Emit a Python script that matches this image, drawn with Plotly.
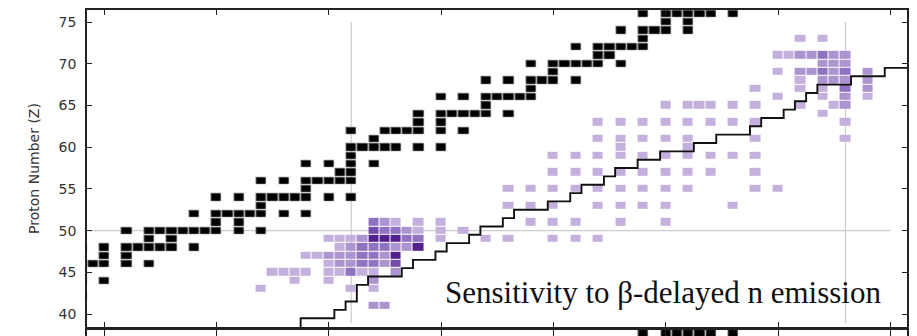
import plotly.graph_objects as go

# ---------------- data ----------------
# stable nuclei (Z, N)
stable_nuclei = [
    (42, 58),
    (44, 58), (44, 60),
    (45, 58),
    (46, 58), (46, 59), (46, 60), (46, 62), (46, 64),
    (47, 60), (47, 62),
    (48, 58), (48, 60), (48, 62), (48, 63), (48, 64), (48, 65), (48, 66), (48, 68),
    (49, 64), (49, 66),
    (50, 62), (50, 64), (50, 65), (50, 66), (50, 67), (50, 68), (50, 69), (50, 70), (50, 72), (50, 74),
    (51, 70), (51, 72),
    (52, 68), (52, 70), (52, 71), (52, 72), (52, 73), (52, 74), (52, 76), (52, 78),
    (53, 74),
    (54, 70), (54, 72), (54, 74), (54, 75), (54, 76), (54, 77), (54, 78), (54, 80), (54, 82),
    (55, 78),
    (56, 74), (56, 76), (56, 78), (56, 79), (56, 80), (56, 81), (56, 82),
    (57, 81), (57, 82),
    (58, 78), (58, 80), (58, 82), (58, 84),
    (59, 82),
    (60, 82), (60, 83), (60, 84), (60, 85), (60, 86), (60, 88), (60, 90),
    (61, 84),
    (62, 82), (62, 85), (62, 86), (62, 87), (62, 88), (62, 90), (62, 92),
    (63, 88), (63, 90),
    (64, 88), (64, 90), (64, 91), (64, 92), (64, 93), (64, 94), (64, 96),
    (65, 94),
    (66, 90), (66, 92), (66, 94), (66, 95), (66, 96), (66, 97), (66, 98),
    (67, 98),
    (68, 94), (68, 96), (68, 98), (68, 99), (68, 100), (68, 102),
    (69, 100),
    (70, 98), (70, 100), (70, 101), (70, 102), (70, 103), (70, 104), (70, 106),
    (71, 104), (71, 105),
    (72, 102), (72, 104), (72, 105), (72, 106), (72, 107), (72, 108),
    (73, 108),
    (74, 106), (74, 108), (74, 109), (74, 110), (74, 112),
    (75, 110), (75, 112),
    (76, 108), (76, 110), (76, 111), (76, 112), (76, 113), (76, 114), (76, 116),
]

# sensitivity cells (Z, N, level 1..5)
sens_cells = [
    (41, 84, 2), (41, 85, 2),
    (43, 74, 1), (43, 82, 1), (43, 84, 1),
    (44, 77, 1), (44, 80, 1), (44, 84, 2),
    (45, 75, 1), (45, 76, 1), (45, 77, 1), (45, 78, 1), (45, 80, 1), (45, 81, 1),
    (45, 82, 3), (45, 83, 1), (45, 84, 1), (45, 86, 2),
    (46, 80, 1), (46, 81, 2), (46, 82, 2), (46, 83, 3), (46, 84, 3), (46, 85, 2), (46, 86, 4),
    (47, 78, 1), (47, 79, 1), (47, 80, 2), (47, 81, 2), (47, 82, 2), (47, 83, 3),
    (47, 84, 3), (47, 85, 2), (47, 86, 5),
    (48, 81, 1), (48, 82, 2), (48, 83, 3), (48, 84, 3), (48, 85, 3), (48, 86, 2),
    (48, 87, 2), (48, 88, 5),
    (49, 80, 1), (49, 81, 1), (49, 82, 1), (49, 83, 2), (49, 84, 5), (49, 85, 5),
    (49, 86, 5), (49, 87, 3), (49, 88, 3), (49, 90, 1), (49, 94, 1), (49, 96, 1),
    (49, 100, 1), (49, 102, 1), (49, 104, 1),
    (50, 84, 4), (50, 85, 3), (50, 86, 3), (50, 87, 2), (50, 88, 1), (50, 90, 1), (50, 92, 1),
    (51, 84, 3), (51, 85, 2), (51, 86, 1), (51, 88, 1), (51, 90, 1), (51, 98, 1),
    (51, 100, 1), (51, 102, 1), (51, 106, 1), (51, 110, 1),
    (53, 96, 1), (53, 98, 1), (53, 100, 1), (53, 104, 1), (53, 106, 1), (53, 108, 1),
    (53, 110, 1), (53, 116, 1),
    (55, 96, 1), (55, 98, 1), (55, 100, 1), (55, 102, 1), (55, 104, 1), (55, 106, 1),
    (55, 108, 1), (55, 110, 1), (55, 112, 1), (55, 118, 1), (55, 120, 1),
    (57, 100, 1), (57, 102, 1), (57, 104, 1), (57, 106, 1), (57, 108, 1), (57, 110, 1),
    (57, 112, 1), (57, 114, 1), (57, 118, 1),
    (59, 100, 1), (59, 102, 1), (59, 104, 1), (59, 106, 1), (59, 108, 1), (59, 110, 1),
    (59, 112, 1), (59, 114, 1), (59, 116, 1), (59, 118, 1),
    (60, 106, 1), (60, 112, 1),
    (61, 104, 1), (61, 106, 1), (61, 108, 1), (61, 110, 1), (61, 112, 1), (61, 118, 1),
    (61, 126, 1),
    (63, 104, 1), (63, 106, 1), (63, 108, 1), (63, 110, 1), (63, 112, 1), (63, 114, 1),
    (63, 116, 1), (63, 118, 1), (63, 126, 1),
    (64, 124, 1),
    (65, 110, 1), (65, 112, 1), (65, 113, 1), (65, 114, 1), (65, 116, 1), (65, 118, 1),
    (65, 122, 1), (65, 125, 1), (65, 126, 2),
    (66, 120, 1), (66, 124, 1), (66, 126, 2), (66, 128, 1),
    (67, 118, 1), (67, 122, 1), (67, 124, 1), (67, 126, 3), (67, 128, 2),
    (68, 122, 1), (68, 124, 2), (68, 125, 2), (68, 126, 2), (68, 128, 2),
    (69, 120, 1), (69, 122, 2), (69, 123, 2), (69, 124, 3), (69, 125, 2), (69, 126, 3),
    (69, 128, 2),
    (70, 124, 2), (70, 125, 2), (70, 126, 2),
    (71, 120, 1), (71, 121, 1), (71, 122, 2), (71, 123, 2), (71, 124, 3), (71, 125, 2),
    (71, 126, 2),
    (73, 122, 1), (73, 124, 1),
]

# staircase path (N, Z vertices)
path_n = [77.5, 77.5, 80.5, 80.5, 81.5, 81.5, 82.5, 82.5, 83.5, 83.5, 86.5, 86.5,
          87.5, 87.5, 89.5, 89.5, 90.5, 90.5, 92.5, 92.5, 93.5, 93.5, 95.5, 95.5,
          96.5, 96.5, 99.5, 99.5, 101.5, 101.5, 102.5, 102.5, 104.5, 104.5, 105.5,
          105.5, 107.5, 107.5, 109.5, 109.5, 112.5, 112.5, 114.5, 114.5, 117.5,
          117.5, 118.5, 118.5, 120.5, 120.5, 121.5, 121.5, 122.5, 122.5, 123.5,
          123.5, 126.5, 126.5, 129.5, 129.5, 133.0]
path_z = [38.0, 39.5, 39.5, 40.5, 40.5, 41.5, 41.5, 43.5, 43.5, 44.5, 44.5, 45.5,
          45.5, 46.5, 46.5, 47.5, 47.5, 48.5, 48.5, 49.5, 49.5, 50.5, 50.5, 51.5,
          51.5, 52.5, 52.5, 53.5, 53.5, 54.5, 54.5, 55.5, 55.5, 56.5, 56.5,
          57.5, 57.5, 58.5, 58.5, 59.5, 59.5, 60.5, 60.5, 61.5, 61.5,
          62.5, 62.5, 63.5, 63.5, 64.5, 64.5, 65.5, 65.5, 66.5, 66.5,
          67.5, 67.5, 68.5, 68.5, 69.5, 69.5]

magic_n = [82, 126]
magic_z = [50]
magic_z_span = [38.9, 75.0]
magic_n_span = [58.0, 130.0]

x_ticks = [60, 70, 80, 90, 100, 110, 120, 130]
y_ticks = [40, 45, 50, 55, 60, 65, 70, 75]

label_text = "Sensitivity to β-delayed n emission"
y_title = "Proton Number (Z)"

# ---------------- grids ----------------
n_axis = list(range(56, 134))
z_axis = list(range(36, 79))


def make_grid(cells):
    g = [[None] * len(n_axis) for _ in z_axis]
    for c in cells:
        z, n = c[0], c[1]
        v = c[2] if len(c) > 2 else 1
        g[z - z_axis[0]][n - n_axis[0]] = v
    return g


stable_grid = make_grid(stable_nuclei)
sens_grid = make_grid(sens_cells)

purples = [[0.0, '#c4b0dc'], [0.25, '#ab94cf'], [0.5, '#9073c0'],
           [0.75, '#734bab'], [1.0, '#52218d']]

fig = go.Figure()

for xa, ya in (('x', 'y'), ('x2', 'y2')):
    fig.add_trace(go.Heatmap(x=n_axis, y=z_axis, z=stable_grid, xaxis=xa, yaxis=ya,
                             colorscale=[[0, '#5c5c5c'], [1, '#5c5c5c']],
                             showscale=False, xgap=0.8, ygap=0.8, hoverinfo='skip'))
    fig.add_trace(go.Heatmap(x=n_axis, y=z_axis, z=stable_grid, xaxis=xa, yaxis=ya,
                             colorscale=[[0, '#000000'], [1, '#000000']],
                             showscale=False, xgap=2.2, ygap=2.2, hoverinfo='skip'))

fig.add_trace(go.Heatmap(x=n_axis, y=z_axis, z=sens_grid, colorscale=purples,
                         zmin=1, zmax=5, showscale=False, xgap=1, ygap=1,
                         hoverinfo='skip'))

fig.add_trace(go.Scatter(x=path_n, y=path_z, mode='lines',
                         line=dict(color='#111111', width=1.9), hoverinfo='skip',
                         showlegend=False))

shapes = []
for n in magic_n:
    shapes.append(dict(type='line', xref='x', yref='y', x0=n, x1=n,
                       y0=magic_z_span[0], y1=magic_z_span[1], layer='below',
                       line=dict(color='#cccccc', width=1.2)))
for z in magic_z:
    shapes.append(dict(type='line', xref='x', yref='y', x0=magic_n_span[0],
                       x1=magic_n_span[1], y0=z, y1=z, layer='below',
                       line=dict(color='#cccccc', width=1.2)))

x_range = [58.48, 131.48]
axis_common = dict(showline=True, linecolor='#222222', linewidth=1.5, mirror='ticks',
                   ticks='inside', ticklen=5, tickwidth=1, tickcolor='#222222',
                   showgrid=False, zeroline=False, automargin=False)

# the page body has an 8px margin, so the figure is sized/offset to compensate
fig.update_layout(
    width=909, height=328,
    margin=dict(l=79, r=10, t=2, b=0),
    paper_bgcolor='white', plot_bgcolor='white',
    showlegend=False,
    shapes=shapes,
    xaxis=dict(range=x_range, tickvals=x_ticks, showticklabels=False,
               anchor='y', **axis_common),
    yaxis=dict(range=[38.45, 76.44], domain=[0.0276, 1.0], tickvals=y_ticks,
               tickfont=dict(family='DejaVu Sans', size=14, color='#333333'),
               ticklabelstandoff=6,
               title=dict(text=y_title, standoff=16,
                          font=dict(family='DejaVu Sans', size=14, color='#333333')),
               **axis_common),
    xaxis2=dict(range=x_range, tickvals=x_ticks, showticklabels=False,
                anchor='y2', matches='x', **axis_common),
    yaxis2=dict(range=[75.72, 76.44], domain=[0.0, 0.0184], tickvals=y_ticks,
                showticklabels=False, **axis_common),
    annotations=[dict(text=label_text, x=109.8, y=42.6, xref='x', yref='y',
                      xanchor='center', yanchor='middle', showarrow=False,
                      font=dict(family='Liberation Serif', size=31, color='#111111'))],
)

fig.write_html("out.html")
